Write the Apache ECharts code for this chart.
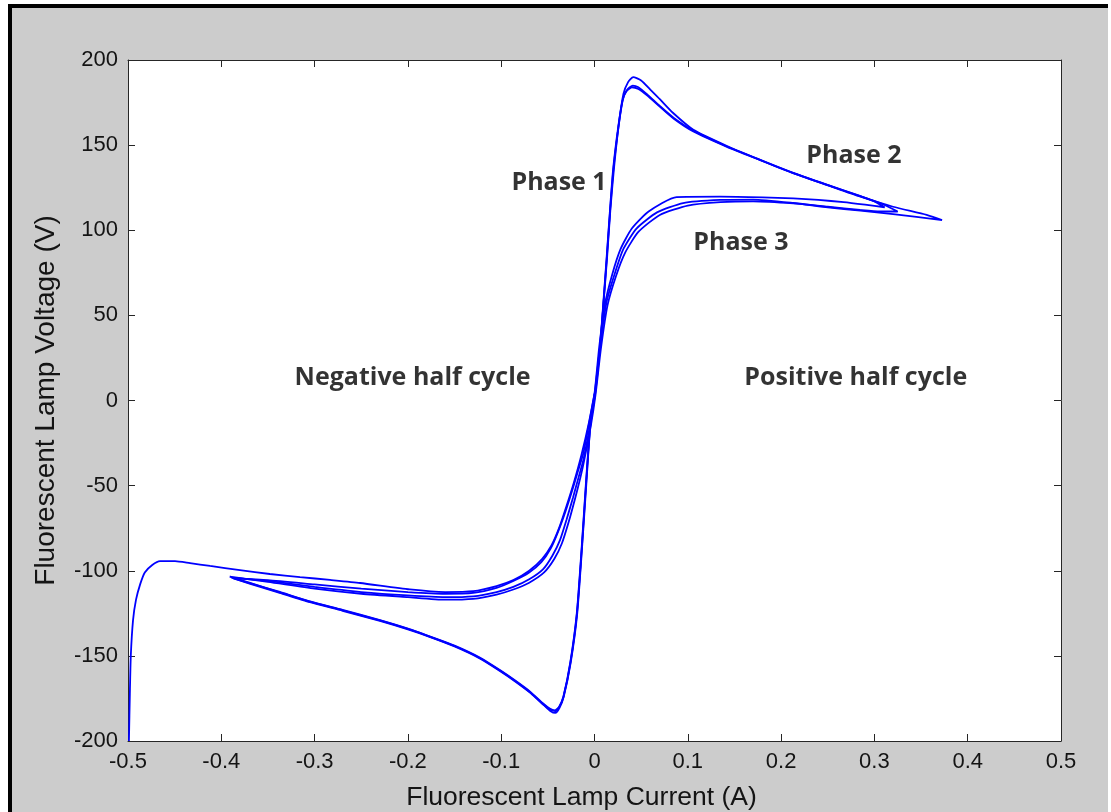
<!DOCTYPE html>
<html>
<head>
<meta charset="utf-8">
<script src="https://cdn.jsdelivr.net/npm/echarts@6/dist/echarts.min.js"></script>
<style>
  html, body { margin: 0; padding: 0; background: #fff; }
  #frame {
    position: absolute; left: 8px; top: 4px; width: 1096px; height: 808px;
    background: #cccccc; border-top: 4px solid #000; border-left: 4px solid #000;
  }
  #chart { position: absolute; left: 0; top: 0; width: 1111px; height: 812px; }
</style>
</head>
<body>
<div id="frame"></div>
<div id="chart"></div>
<script>
// tick labels
var xTickLabels = ['-0.5', '-0.4', '-0.3', '-0.2', '-0.1', '0', '0.1', '0.2', '0.3', '0.4', '0.5'];
var yTickLabels = ['-200', '-150', '-100', '-50', '0', '50', '100', '150', '200'];

// start-up trace, left edge
var startUp = [
  [-0.499, -200], [-0.498, -172], [-0.497, -150], [-0.4946, -129], [-0.4914, -117], [-0.487, -108],
  [-0.482, -101], [-0.474, -96.6], [-0.4657, -94.3], [-0.4496, -94.3], [-0.4335, -95.5], [-0.412, -97.2],
  [-0.38, -99.6], [-0.348, -101.9], [-0.3156, -103.7], [-0.2835, -105.4], [-0.2513, -107.2], [-0.198, -111],
  [-0.16, -112.5], [-0.13, -112], [-0.105, -109], [-0.087, -105.5], [-0.07, -100], [-0.056, -93],
  [-0.046, -85], [-0.038, -75], [-0.03, -62], [-0.022, -48], [-0.014, -32], [-0.006, -13], [0, 4]
];

// cycle 1 (outer right tip)
var cycle1 = [
  [-0.389, -104], [-0.35, -106], [-0.30, -109.5], [-0.25, -112.5], [-0.20, -114.5], [-0.16, -115.5],
  [-0.13, -115], [-0.105, -112.5], [-0.087, -109.5], [-0.07, -105], [-0.055, -99], [-0.045, -91],
  [-0.037, -82], [-0.03, -70], [-0.023, -57], [-0.017, -45], [-0.012, -35], [-0.005, -15], [0, 3],
  [0.006, 32], [0.013, 58], [0.022, 75], [0.031, 89], [0.045, 101], [0.067, 110.5], [0.095, 116],
  [0.135, 117.8], [0.17, 118], [0.213, 116], [0.25, 113.5], [0.285, 111.5], [0.32, 109.5], [0.3725, 106],
  [0.356, 109], [0.32, 113.8], [0.285, 119.7], [0.249, 126.6], [0.213, 133.5], [0.177, 141.3],
  [0.142, 149], [0.106, 158], [0.085, 165.5], [0.07, 172.6], [0.057, 179], [0.047, 183], [0.040, 184],
  [0.034, 181.5], [0.030, 176], [0.0255, 161], [0.020, 136], [0.0166, 112], [0.013, 84], [0.0094, 57],
  [0.0059, 32], [0.0005, 4], [-0.0048, -16], [-0.009, -47], [-0.0137, -86], [-0.019, -125],
  [-0.026, -154], [-0.0334, -174], [-0.038, -180], [-0.0423, -182], [-0.048, -181], [-0.055, -178],
  [-0.069, -171], [-0.085, -164.5], [-0.101, -158.5], [-0.123, -151], [-0.15, -144], [-0.176, -138.7],
  [-0.20, -134], [-0.23, -129], [-0.27, -123], [-0.305, -118], [-0.34, -112], [-0.369, -107.4], [-0.389, -104]
];

// cycle 2 (higher peak, short right tip)
var cycle2 = [
  [-0.387, -104.5], [-0.35, -105.5], [-0.30, -108], [-0.25, -110.5], [-0.20, -112.5], [-0.16, -113.5],
  [-0.13, -113], [-0.105, -110], [-0.087, -106], [-0.07, -101], [-0.057, -95], [-0.047, -87],
  [-0.039, -77], [-0.031, -65], [-0.024, -53], [-0.018, -42], [-0.012, -31], [-0.006, -14], [0, 4],
  [0.005, 31], [0.011, 56], [0.019, 74], [0.028, 89], [0.04, 101], [0.058, 111], [0.088, 119.5],
  [0.1345, 119.7], [0.18, 119.3], [0.213, 118.7], [0.24, 117.8], [0.267, 116.5], [0.29, 115], [0.311, 113.5],
  [0.30, 117], [0.285, 120], [0.249, 126.8], [0.213, 133.7], [0.177, 141.5], [0.142, 149.5], [0.106, 159],
  [0.084, 169], [0.07, 177], [0.06, 182.5], [0.05, 188], [0.0415, 190], [0.036, 187], [0.031, 180],
  [0.026, 162], [0.021, 137], [0.017, 112], [0.0135, 84], [0.0098, 58], [0.0062, 33], [0.001, 5],
  [-0.0045, -15], [-0.0085, -47], [-0.0133, -86], [-0.0185, -125], [-0.0255, -154], [-0.033, -174],
  [-0.0375, -180.5], [-0.042, -183.5], [-0.047, -182.5], [-0.054, -179], [-0.068, -172], [-0.085, -165],
  [-0.101, -159], [-0.123, -151.5], [-0.15, -144.5], [-0.176, -139], [-0.20, -134.5], [-0.23, -129.5],
  [-0.27, -123.5], [-0.305, -118.5], [-0.34, -112.5], [-0.368, -107.8], [-0.387, -104.5]
];

// cycle 3 (middle right tip)
var cycle3 = [
  [-0.391, -103.5], [-0.35, -106.5], [-0.30, -110.5], [-0.25, -113.5], [-0.20, -115.5], [-0.16, -117],
  [-0.13, -116.5], [-0.105, -114], [-0.087, -111], [-0.07, -107], [-0.054, -101], [-0.043, -93],
  [-0.035, -84], [-0.028, -72], [-0.021, -58], [-0.015, -45], [-0.011, -35], [-0.004, -15], [0.001, 3],
  [0.007, 31], [0.014, 56], [0.023, 73], [0.033, 87], [0.047, 99], [0.07, 109], [0.1, 114.5],
  [0.135, 116.5], [0.17, 117], [0.213, 115.8], [0.25, 113.8], [0.2846, 111.9], [0.306, 111],
  [0.325, 111], [0.31, 115], [0.285, 120], [0.249, 126.7], [0.213, 133.6], [0.177, 141.4], [0.142, 149.2],
  [0.106, 158.5], [0.085, 166], [0.07, 173], [0.057, 179.5], [0.047, 184], [0.041, 185], [0.035, 182.5],
  [0.0305, 177], [0.0258, 161], [0.0203, 136], [0.0168, 112], [0.0132, 84], [0.0096, 57], [0.006, 32],
  [0.0007, 4], [-0.0046, -16], [-0.0088, -47], [-0.0135, -86], [-0.0188, -125], [-0.0258, -154],
  [-0.0332, -174], [-0.0378, -180], [-0.0422, -182.5], [-0.0475, -181.5], [-0.0555, -178.3],
  [-0.0695, -171.2], [-0.085, -164.7], [-0.101, -158.7], [-0.123, -151.2], [-0.15, -144.2], [-0.176, -138.8],
  [-0.20, -134.2], [-0.23, -129.2], [-0.27, -123.2], [-0.305, -118.2], [-0.34, -112.2], [-0.37, -107], [-0.391, -103.5]
];

// annotation texts and where they sit
var notes = [
  { name: 'Phase 1', value: [-0.038, 127.8] },
  { name: 'Phase 2', value: [0.278, 143.6] },
  { name: 'Phase 3', value: [0.157, 92.5] },
  { name: 'Negative half cycle', value: [-0.195, 13.0] },
  { name: 'Positive half cycle', value: [0.280, 13.2] }
];

var axisColor = '#262626';
var tickFont = { fontFamily: 'Liberation Sans', fontSize: 22, color: '#141414' };

function traceSeries(data) {
  return {
    type: 'line', data: data, showSymbol: false, smooth: 0.2,
    lineStyle: { color: '#0000ff', width: 1.8 }, silent: true, z: 3
  };
}

var chart = echarts.init(document.getElementById('chart'));
chart.setOption({
  animation: false,
  backgroundColor: 'transparent',
  grid: {
    left: 128, top: 60, right: 50, bottom: 71, outerBoundsMode: 'none',
    show: true, backgroundColor: '#fff', borderWidth: 0
  },
  xAxis: [{
    type: 'value', min: -0.5, max: 0.5, interval: 0.1, position: 'bottom',
    name: 'Fluorescent Lamp Current (A)', nameLocation: 'middle', nameGap: 43,
    nameTextStyle: { fontFamily: 'Liberation Sans', fontSize: 26.5, color: '#141414', padding: [0, 26, 0, 0] },
    axisLine: { onZero: false, lineStyle: { color: axisColor, width: 1 } },
    axisTick: { inside: true, length: 7, lineStyle: { color: axisColor } },
    axisLabel: Object.assign({ margin: 10, formatter: function (v, i) { return xTickLabels[i]; } }, tickFont),
    splitLine: { show: false }
  }, {
    type: 'value', min: -0.5, max: 0.5, interval: 0.1, position: 'top',
    axisLine: { onZero: false, lineStyle: { color: axisColor, width: 1 } },
    axisTick: { inside: true, length: 7, lineStyle: { color: axisColor } },
    axisLabel: { show: false }, splitLine: { show: false }
  }],
  yAxis: [{
    type: 'value', min: -200, max: 200, interval: 50, position: 'left',
    name: 'Fluorescent Lamp Voltage (V)', nameLocation: 'middle', nameGap: 68,
    nameTextStyle: { fontFamily: 'Liberation Sans', fontSize: 28, color: '#141414' },
    axisLine: { show: true, onZero: false, lineStyle: { color: axisColor, width: 1 } },
    axisTick: { show: true, inside: true, length: 7, lineStyle: { color: axisColor } },
    axisLabel: Object.assign({ margin: 10, formatter: function (v, i) { return yTickLabels[i]; } }, tickFont),
    splitLine: { show: false }
  }, {
    type: 'value', min: -200, max: 200, interval: 50, position: 'right',
    axisLine: { show: true, onZero: false, lineStyle: { color: axisColor, width: 1 } },
    axisTick: { show: true, inside: true, length: 7, lineStyle: { color: axisColor } },
    axisLabel: { show: false }, splitLine: { show: false }
  }],
  series: [
    traceSeries(startUp),
    traceSeries(cycle1),
    traceSeries(cycle2),
    traceSeries(cycle3),
    {
      type: 'scatter', data: notes, symbolSize: 0, silent: true, z: 5,
      label: {
        show: true, position: 'inside', formatter: '{b}',
        fontFamily: 'Open Sans', fontWeight: 'bold', fontSize: 25, color: '#000'
      }
    }
  ]
});
</script>
</body>
</html>
